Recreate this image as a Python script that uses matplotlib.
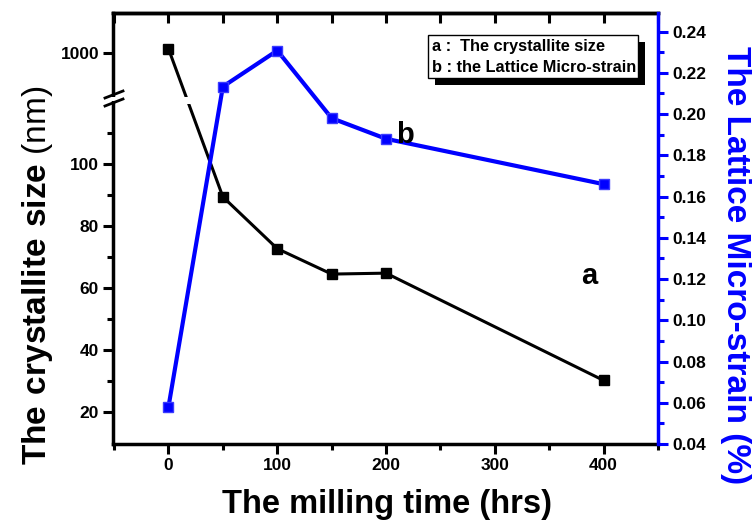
import numpy as np
import matplotlib
matplotlib.use('Agg')
import matplotlib.pyplot as plt
from matplotlib.patches import Rectangle
from matplotlib.lines import Line2D
from matplotlib.ticker import FixedLocator, MultipleLocator

plt.rcParams['font.family'] = ['Liberation Sans', 'DejaVu Sans']
plt.rcParams['font.weight'] = 'bold'
plt.rcParams['mathtext.fontset'] = 'custom'
plt.rcParams['mathtext.rm'] = 'Liberation Sans'
plt.rcParams['mathtext.bf'] = 'Liberation Sans:bold'

# ── data ──
time_hrs = [0, 50, 100, 150, 200, 400]
cryst_size = [1020, 89.4, 72.7, 64.5, 64.8, 30.2]        # nm (curve a)
micro_strain = [0.058, 0.2133, 0.2308, 0.198, 0.188, 0.166]  # % (curve b)

left_major = [20, 40, 60, 80, 100, 1000]
left_minor = [30, 50, 70, 90, 110]

# ── broken left axis: linear below LO, compressed linear above HI ──
LO, HI, SQ = 120.7, 773.0, 15.0


def fwd(v):
    v = np.asarray(v, dtype=float)
    return np.where(v <= LO, v, np.where(v >= HI, LO + (v - HI) / SQ, LO))


def inv(u):
    u = np.asarray(u, dtype=float)
    return np.where(u <= LO, u, HI + (u - LO) * SQ)


W, H = 754, 531
fig = plt.figure(figsize=(W / 100, H / 100), dpi=100)
ax = fig.add_axes([113 / W, 1 - 444 / H, (658 - 113) / W, (444 - 13) / H])
ax2 = ax.twinx()


def px(x, y):
    return x / W, 1 - y / H


ax.set_yscale('function', functions=(fwd, inv))
ax.set_xlim(-51, 450)
ax.set_ylim(9.7, 1193)

ax.plot(time_hrs, cryst_size, color='black', lw=2.2, marker='s', ms=6.5,
        zorder=2)
ax2.plot(time_hrs, micro_strain, color='blue', lw=3, marker='s', ms=7,
         mec='#3b3bff', zorder=3)
ax2.set_ylim(0.04, 0.249)

# gap in curve a at the break
ax.add_patch(Rectangle((0, (444 - 104) / 431), 1, 7 / 431,
                       transform=ax.transAxes, fc='white', ec='none',
                       zorder=2.1))

# ticks
ax.yaxis.set_major_locator(FixedLocator(left_major))
ax.yaxis.set_minor_locator(FixedLocator(left_minor))
ax.xaxis.set_major_locator(MultipleLocator(100))
ax.xaxis.set_minor_locator(MultipleLocator(50))
ax.tick_params(which='major', direction='out', length=7, width=2.2,
               labelsize=12.5, pad=3)
ax.tick_params(which='minor', direction='out', length=4, width=2.2)
ax.tick_params(top=False, right=False)

top = ax.secondary_xaxis('top')
top.xaxis.set_major_locator(MultipleLocator(50))
top.tick_params(direction='in', length=7, width=2.2, labeltop=False)
top.spines['top'].set_linewidth(2.5)

ax2.yaxis.set_major_locator(MultipleLocator(0.02))
ax2.yaxis.set_minor_locator(MultipleLocator(0.01))
ax2.yaxis.set_major_formatter(matplotlib.ticker.FormatStrFormatter('%.2f'))
ax2.tick_params(which='major', direction='out', length=7, width=2.2,
                color='blue', labelsize=12.5, pad=3)
ax2.tick_params(which='minor', direction='out', length=4, width=2.2,
                color='blue')

for s in ['left', 'bottom', 'top']:
    ax.spines[s].set_linewidth(2.5)
ax.spines['right'].set_visible(False)
for s in ['left', 'bottom', 'top']:
    ax2.spines[s].set_visible(False)
ax2.spines['right'].set_color('blue')
ax2.spines['right'].set_linewidth(2.5)

# axis break marks on the left spine
fig.patches.append(Rectangle(px(109, 101), 8 / W, 4 / H, fc='white',
                             ec='none', transform=fig.transFigure,
                             zorder=5))
for dy in (0, 8):
    (x0, y0), (x1, y1) = px(105, 98 + dy), px(123, 91 + dy)
    fig.lines.append(Line2D([x0, x1], [y0, y1], color='black', lw=2,
                            transform=fig.transFigure, zorder=6))

# labels
fig.text(*px(387, 505), 'The milling time (hrs)', ha='center', va='center',
         fontsize=23.5, fontweight='bold')
fig.text(*px(38, 275), r'$\mathbf{The\ crystallite\ size}$ (nm)',
         rotation=90, ha='center', va='center', fontsize=24,
         fontweight='normal')
fig.text(*px(735, 265), 'The Lattice Micro-strain (%)', rotation=270,
         ha='center', va='center', fontsize=24, fontweight='bold',
         color='blue')

ax.text(387, 64, 'a', fontsize=21, fontweight='bold', ha='center',
        va='center')
ax2.text(217, 0.19, 'b', fontsize=21, fontweight='bold', ha='center',
         va='center')

# legend box with drop shadow
fig.patches.append(Rectangle(px(435, 85), 210 / W, 43 / H, fc='black',
                             ec='none', transform=fig.transFigure, zorder=7))
fig.patches.append(Rectangle(px(428, 78), 210 / W, 43 / H, fc='white',
                             ec='black', lw=1, transform=fig.transFigure,
                             zorder=8))
fig.text(*px(432, 46), 'a :  The crystallite size', fontsize=11.8,
         fontweight='bold', va='center', zorder=9)
fig.text(*px(432, 68), 'b : the Lattice Micro-strain', fontsize=11.8,
         fontweight='bold', va='center', zorder=9)

plt.savefig('out.png', dpi=100)
plt.close()
